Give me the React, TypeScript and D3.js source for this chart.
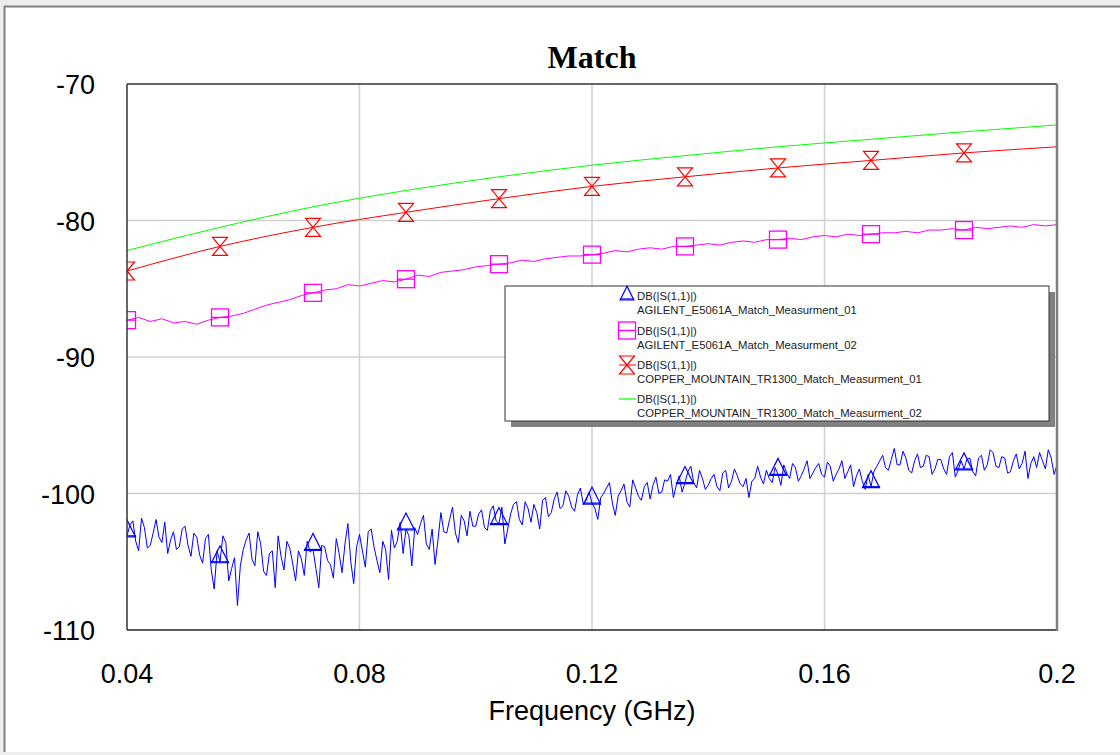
import React from 'react';
import * as d3 from 'd3';

// frequency grids (GHz)
const noisyStep = 0.0005;
const magentaStep = 0.002;
const smoothFreqs = [0.04, 0.056, 0.072, 0.088, 0.104, 0.12, 0.136, 0.152, 0.168, 0.184, 0.2];
const markerFreqs = [0.04, 0.056, 0.072, 0.088, 0.104, 0.12, 0.136, 0.152, 0.168, 0.184];

// AGILENT_E5061A_Match_Measurment_01 (blue, noisy) at 0.040, 0.041, ... 0.200
const agilent01 = [
  -103.1, -102.0, -104.2, -102.5, -103.8, -101.9, -103.6, -104.4, -102.8, -103.9,
  -102.4, -104.6, -103.2, -105.1, -103.0, -107.0, -105.0, -103.6, -105.5, -108.2,
  -104.1, -102.9, -105.3, -103.7, -106.0, -104.2, -103.1, -105.6, -104.0, -106.4,
  -104.8, -103.5, -104.1, -106.9, -103.9, -105.2, -103.3, -105.8, -102.2, -106.6,
  -103.0, -105.4, -102.6, -104.9, -103.5, -106.3, -104.0, -102.1, -102.6, -105.3,
  -103.0, -101.6, -104.1, -105.2, -101.4, -102.9, -101.0, -103.6, -102.0, -101.3,
  -102.4, -101.2, -102.7, -100.9, -102.2, -103.7, -101.5, -100.6, -102.3, -101.1,
  -100.8, -102.6, -100.3, -101.4, -99.9, -100.9, -100.2, -101.3, -99.6, -100.5,
  -100.7, -101.9, -100.0, -99.2, -101.6, -99.8, -100.6, -99.0, -100.2, -99.5,
  -100.4, -98.8, -99.9, -99.1, -100.3, -98.7, -99.2, -98.0, -99.6, -98.9,
  -99.4, -98.6, -99.8, -98.3, -99.1, -98.7, -99.5, -100.3, -98.9, -98.8,
  -98.3, -99.2, -98.6, -97.9, -98.9, -98.1, -98.7, -97.6, -98.5, -97.8,
  -98.8, -98.0, -98.6, -97.6, -98.4, -99.5, -98.2, -99.7, -99.5, -98.0,
  -97.2, -98.3, -96.7, -97.9, -97.4, -98.5, -97.1, -98.0, -97.3, -98.2,
  -97.5, -98.6, -97.0, -98.3, -98.2, -97.4, -98.7, -97.2, -97.9, -97.0,
  -98.1, -97.4, -98.4, -97.1, -97.8, -98.9, -97.3, -97.0, -98.2, -97.4,
  -97.9,
];
// same trace, the samples in between (0.0405, 0.0415, ... 0.1995)
const agilent01Mid = [
  -102.3, -103.5, -101.8, -104.0, -102.9, -103.2, -102.1, -103.4, -104.1, -102.6,
  -103.8, -102.9, -104.5, -103.3, -105.6, -104.2, -103.1, -106.4, -104.7, -105.3,
  -103.4, -104.8, -102.8, -105.7, -104.4, -106.9, -104.6, -103.5, -105.1, -104.2,
  -106.0, -104.3, -105.5, -103.8, -104.9, -106.2, -104.4, -103.7, -105.0, -103.9,
  -104.2, -102.8, -103.9, -105.8, -104.1, -102.7, -103.5, -104.4, -103.1, -102.5,
  -102.2, -103.7, -102.6, -103.4, -102.8, -101.9, -102.9, -101.6, -103.1, -102.4,
  -101.5, -102.5, -101.3, -102.0, -101.0, -102.6, -100.8, -101.9, -100.6, -102.1,
  -101.4, -100.5, -101.7, -100.4, -101.1, -99.8, -101.0, -100.1, -100.8, -99.9,
  -101.1, -100.3, -99.6, -100.7, -100.2, -99.3, -101.0, -99.6, -100.5, -99.2,
  -99.4, -100.0, -99.0, -98.6, -99.4, -99.9, -98.4, -99.2, -98.3, -99.7,
  -98.9, -99.5, -98.5, -99.6, -98.2, -99.3, -98.9, -99.1, -98.0, -99.3,
  -98.9, -98.1, -99.4, -98.5, -97.8, -99.1, -98.2, -98.9, -98.1, -98.6,
  -97.7, -99.1, -98.2, -98.9, -97.9, -98.7, -99.1, -98.6, -98.4, -97.6,
  -98.1, -97.5, -97.9, -96.9, -98.3, -97.6, -98.1, -97.2, -98.6, -97.5,
  -98.2, -97.3, -98.8, -97.6, -97.5, -98.4, -97.4, -98.3, -96.8, -98.0,
  -97.3, -98.5, -97.6, -98.2, -96.9, -97.8, -98.1, -97.6, -96.8, -98.6,
];

// AGILENT_E5061A_Match_Measurment_02 (magenta)
const agilent02 = [
  -87.3, -87.1, -87.4, -87.2, -87.5, -87.4, -87.6, -87.3, -87.1, -87.0,
  -86.8, -86.5, -86.2, -86.0, -85.8, -85.5, -85.3, -85.1, -85.0, -84.7,
  -84.8, -84.6, -84.4, -84.5, -84.3, -84.0, -84.1, -83.8, -83.7, -83.6,
  -83.4, -83.3, -83.2, -83.1, -82.9, -83.0, -82.8, -82.7, -82.6, -82.6,
  -82.5, -82.4, -82.2, -82.3, -82.1, -82.0, -82.1, -81.9, -81.9, -81.8,
  -81.7, -81.8, -81.6, -81.5, -81.6, -81.4, -81.4, -81.3, -81.4, -81.2,
  -81.1, -81.2, -81.0, -81.1, -81.0, -80.9, -80.9, -80.8, -80.9, -80.7,
  -80.7, -80.6, -80.7, -80.5, -80.6, -80.5, -80.4, -80.5, -80.3, -80.4,
  -80.3,
];

// COPPER_MOUNTAIN_TR1300 (red / green)
const copper01 = [-83.7, -81.9, -80.5, -79.4, -78.4, -77.5, -76.8, -76.15, -75.6, -75.05, -74.6];
const copper02 = [-82.2, -80.5, -79.0, -77.8, -76.8, -75.95, -75.25, -74.6, -74.05, -73.5, -73.0];

const xTicks = [0.04, 0.08, 0.12, 0.16, 0.2];
const yTicks = [-70, -80, -90, -100, -110];
const xTickLabels = ['0.04', '0.08', '0.12', '0.16', '0.2'];
const yTickLabels = ['-70', '-80', '-90', '-100', '-110'];

const legendTitle = 'DB(|S(1,1)|)';
const legendNames = [
  'AGILENT_E5061A_Match_Measurment_01',
  'AGILENT_E5061A_Match_Measurment_02',
  'COPPER_MOUNTAIN_TR1300_Match_Measurment_01',
  'COPPER_MOUNTAIN_TR1300_Match_Measurment_02',
];

const BLUE = '#0000ff';
const MAGENTA = '#ff00ff';
const RED = '#ff0000';
const GREEN = '#00ff00';
const SANS = 'Arial, "Liberation Sans", sans-serif';

const left = 127, right = 1057, top = 84, bottom = 630;

const x = d3.scaleLinear().domain([0.04, 0.2]).range([left, right]);
const y = d3.scaleLinear().domain([-110, -70]).range([bottom, top]);

type Pt = [number, number];

const blueVals: number[] = [];
agilent01.forEach((v, i) => {
  blueVals.push(v);
  if (i < agilent01Mid.length) blueVals.push(agilent01Mid[i]);
});

const toPts = (vals: number[], step: number): Pt[] => vals.map((v, i) => [0.04 + i * step, v]);
const bluePts = toPts(blueVals, noisyStep);
const magentaPts = toPts(agilent02, magentaStep);
const redPts: Pt[] = smoothFreqs.map((f, i) => [f, copper01[i]]);
const greenPts: Pt[] = smoothFreqs.map((f, i) => [f, copper02[i]]);

const lineLinear = d3.line<Pt>().x((d) => x(d[0])).y((d) => y(d[1]));
const lineSmooth = d3.line<Pt>().x((d) => x(d[0])).y((d) => y(d[1])).curve(d3.curveMonotoneX);

const nearest = (pts: Pt[], f: number): Pt =>
  pts.reduce((a, b) => (Math.abs(b[0] - f) < Math.abs(a[0] - f) ? b : a));

const Triangle = ({ cx, cy, c, s = 1 }: { cx: number; cy: number; c: string; s?: number }) => (
  <g stroke={c} fill="none" strokeWidth={1.2}>
    <path d={`M${cx},${cy - 16 * s}L${cx - 8.5 * s},${cy + 1}L${cx + 8.5 * s},${cy + 1}Z`} />
    <line x1={cx - 9 * s} x2={cx + 9 * s} y1={cy} y2={cy} />
  </g>
);

const Square = ({ cx, cy, c }: { cx: number; cy: number; c: string }) => (
  <g stroke={c} fill="none" strokeWidth={1.3}>
    <rect x={cx - 8.5} y={cy - 8.5} width={17} height={17} />
    <line x1={cx - 8.5} x2={cx + 8.5} y1={cy} y2={cy} />
  </g>
);

const Hourglass = ({ cx, cy, c }: { cx: number; cy: number; c: string }) => (
  <g stroke={c} fill="none" strokeWidth={1.2}>
    <path d={`M${cx - 7.5},${cy - 9}L${cx + 7.5},${cy - 9}L${cx - 7.5},${cy + 9}L${cx + 7.5},${cy + 9}Z`} />
  </g>
);

export default function App() {
  const legendX = 505, legendY = 286, legendW = 544, legendH = 135;
  const entryY = [296, 330.5, 365, 399];

  return (
    <div style={{ position: 'absolute', left: 0, top: 0 }}>
      <svg width={1120} height={755} style={{ display: 'block' }}>
        <rect x={0} y={0} width={1120} height={755} fill="#ededed" />
        <rect x={5} y={7} width={1115} height={745} fill="#ffffff" />
        <line x1={4.5} x2={4.5} y1={6} y2={752} stroke="#808080" strokeWidth={2} />
        <line x1={4} x2={1120} y1={6.5} y2={6.5} stroke="#808080" strokeWidth={2} />

        <defs>
          <clipPath id="plot-clip">
            <rect x={left} y={top} width={right - left} height={bottom - top} />
          </clipPath>
        </defs>

        {/* grid */}
        {xTicks.slice(1, -1).map((t) => (
          <line key={`gx${t}`} x1={x(t)} x2={x(t)} y1={top} y2={bottom} stroke="#d0d0d0" strokeWidth={1.5} />
        ))}
        {yTicks.slice(1, -1).map((t) => (
          <line key={`gy${t}`} x1={left} x2={right} y1={y(t)} y2={y(t)} stroke="#d0d0d0" strokeWidth={1.5} />
        ))}

        <g clipPath="url(#plot-clip)">
          <path d={lineLinear(bluePts) ?? ''} fill="none" stroke={BLUE} strokeWidth={1} />
          <path d={lineLinear(magentaPts) ?? ''} fill="none" stroke={MAGENTA} strokeWidth={1} />
          <path d={lineSmooth(redPts) ?? ''} fill="none" stroke={RED} strokeWidth={1} />
          <path d={lineSmooth(greenPts) ?? ''} fill="none" stroke={GREEN} strokeWidth={1} />

          {markerFreqs.map((f) => {
            const p = nearest(bluePts, f);
            return <Triangle key={`b${f}`} cx={x(p[0])} cy={y(p[1])} c={BLUE} />;
          })}
          {markerFreqs.map((f) => {
            const p = nearest(magentaPts, f);
            return <Square key={`m${f}`} cx={x(p[0])} cy={y(p[1])} c={MAGENTA} />;
          })}
          {markerFreqs.map((f) => {
            const p = nearest(redPts, f);
            return <Hourglass key={`r${f}`} cx={x(p[0])} cy={y(p[1])} c={RED} />;
          })}
        </g>

        {/* plot frame */}
        <line x1={left} x2={left} y1={top} y2={bottom} stroke="#333" strokeWidth={1.5} />
        <line x1={left} x2={right} y1={top} y2={top} stroke="#333" strokeWidth={1.5} />
        <line x1={left} x2={right} y1={bottom} y2={bottom} stroke="#222" strokeWidth={1.5} />
        <line x1={right} x2={right} y1={top} y2={bottom + 1} stroke="#808080" strokeWidth={2.5} />

        {/* tick labels */}
        {yTicks.map((t, i) => (
          <text key={`yl${t}`} x={95} y={y(t) + 3} textAnchor="end" dominantBaseline="middle"
            fontFamily={SANS} fontSize={27} fill="#000">{yTickLabels[i]}</text>
        ))}
        {xTicks.map((t, i) => (
          <text key={`xl${t}`} x={x(t)} y={683} textAnchor="middle"
            fontFamily={SANS} fontSize={27} fill="#000">{xTickLabels[i]}</text>
        ))}

        <text x={592} y={720} textAnchor="middle" fontFamily={SANS} fontSize={27} fill="#000">Frequency (GHz)</text>
        <text x={592} y={68} textAnchor="middle" fontFamily='"Times New Roman", "Liberation Serif", serif'
          fontWeight="bold" fontSize={32} fill="#000">Match</text>

        {/* legend */}
        <rect x={legendX + 6} y={legendY + 6} width={legendW} height={legendH} fill="#808080" />
        <rect x={legendX} y={legendY} width={legendW} height={legendH} fill="#fff" stroke="#333" strokeWidth={1} />
        <Triangle cx={627} cy={entryY[0] + 3} c={BLUE} s={0.8} />
        <Square cx={627} cy={entryY[1]} c={MAGENTA} />
        <g>
          <Hourglass cx={627} cy={entryY[2]} c={RED} />
          <line x1={619} x2={636} y1={entryY[2]} y2={entryY[2]} stroke={RED} strokeWidth={1} />
        </g>
        <line x1={619} x2={636} y1={entryY[3]} y2={entryY[3]} stroke={GREEN} strokeWidth={1.2} />
        {legendNames.map((n, i) => (
          <g key={n} fontFamily={SANS} fontSize={11.3} fill="#222">
            <text x={637} y={entryY[i] + 4}>{legendTitle}</text>
            <text x={637} y={entryY[i] + 18}>{n}</text>
          </g>
        ))}
      </svg>
    </div>
  );
}
